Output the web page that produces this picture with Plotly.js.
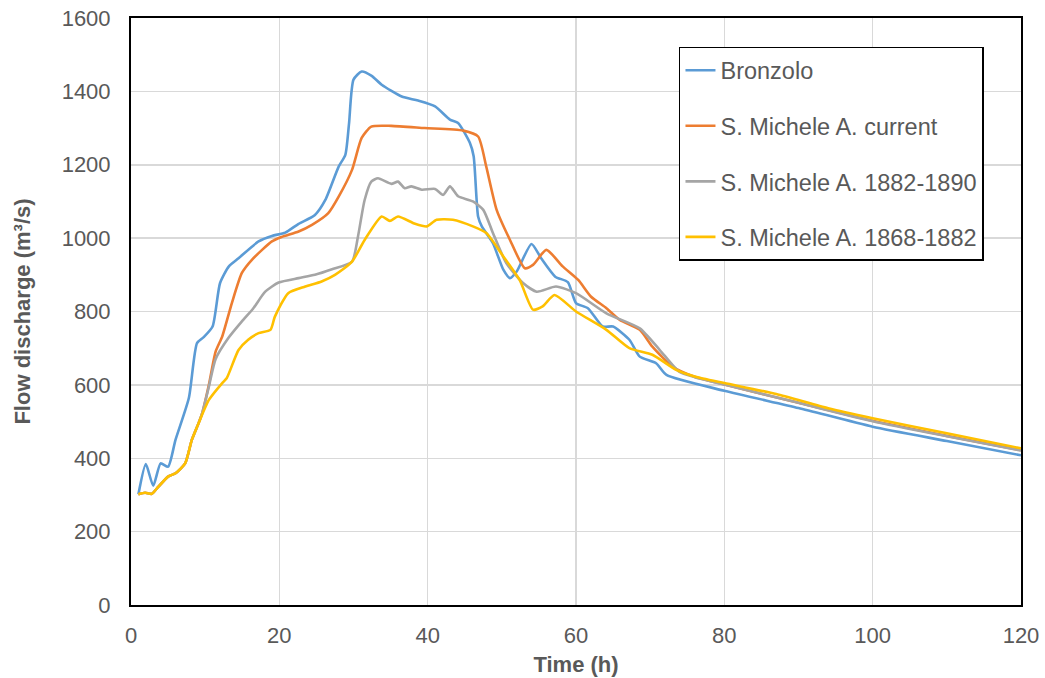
<!DOCTYPE html>
<html>
<head>
<meta charset="utf-8">
<script src="https://cdn.plot.ly/plotly-3.0.1.min.js"></script>
<style>html,body{margin:0;padding:0;background:#fff;}#chart{width:1045px;height:678px;}</style>
</head>
<body>
<div id="chart"></div>
<script>
// Time (h) and flow discharge (m3/s)
const seriesNames = ["Bronzolo", "S. Michele A. current", "S. Michele A. 1882-1890", "S. Michele A. 1868-1882"];

const bronzoloT = [1,2,3,4,5,6,7.8,8.9,9.8,11,12,13.2,14.5,17.2,19,20.8,22.6,24.8,26.2,28,28.9,29.4,30,31.1,32.4,33.8,36.5,38.7,41,43,44.1,45.7,46.2,46.8,47.3,48.8,50.2,51.1,52,54,55.3,57.2,58.9,60,61.6,63.6,65,67.2,68.6,70.8,72.2,80,90,100,110,120];
const bronzoloQ = [302,384,325,386,377,450,564,714,730,759,877,923,945,991,1006,1015,1039,1063,1104,1195,1227,1313,1432,1454,1443,1418,1386,1375,1359,1323,1314,1259,1223,1059,1032,986,914,891,909,984,945,895,880,823,809,759,759,723,677,659,627,584,537,486,447,408];

const currentT = [1,1.9,2.8,3.5,5,6,7.3,8.2,9.1,9.6,10.5,11.4,12.3,13.6,14.95,16.3,19,20.3,22.6,24.4,26.6,28,29.8,31.1,32.4,35.1,39.6,44.8,46.8,47.9,49.3,51.1,53.1,54.2,56,58.2,60.3,62,64.1,65.9,68.6,70.3,73,76,80,90,100,110,120];
const currentQ = [302,306,303,318,350,359,386,450,495,523,600,690,732,823,905,941,991,1003,1018,1036,1068,1113,1186,1273,1304,1306,1300,1293,1277,1195,1077,995,918,927,968,923,886,841,809,777,750,704,650,622,601,551,502,461,422];

const old1882T = [1,1.9,2.8,3.5,5,6,7.3,8.2,9.1,9.6,10.5,11.4,13.1,14.95,16.5,18.1,19.9,22.6,24.8,27.1,29.8,30.6,31.5,32.4,33.3,35.1,36,36.9,37.8,39.2,41,42.1,43,44.1,46.1,47.5,48.8,50.6,52.9,54.7,57.3,60,64.1,68.6,71.3,73.9,76,80,90,100,110,120];
const old1882Q = [302,306,303,318,350,359,386,450,495,523,595,670,727,773,809,854,879,891,900,915,936,1004,1104,1154,1163,1148,1154,1136,1141,1132,1134,1118,1141,1114,1100,1077,1014,932,877,854,868,850,795,754,695,636,621,601,551,501,460,421];

const old1868T = [1,1.9,2.8,3.5,5,6,7.3,8.2,9.1,10.5,12.3,12.9,14.5,15.8,17.2,18.8,19.4,21.2,23.5,25.7,27.5,29.8,31.5,33.8,34.9,36,38.3,39.9,41.2,43.4,46.1,47.9,50.2,52.4,54.2,55.5,57.1,60,64.1,67.2,70.3,73.5,76,80,87,94,100,110,120];
const old1868Q = [302,306,303,318,350,359,386,450,495,559,605,618,695,723,741,750,786,850,868,882,900,936,995,1059,1047,1059,1039,1032,1050,1050,1032,1014,950,886,805,814,845,800,750,700,682,641,623,605,575,536,509,468,427];

const colors = ["#5B9BD5", "#ED7D31", "#A5A5A5", "#FFC000"];
const xs = [bronzoloT, currentT, old1882T, old1868T];
const ys = [bronzoloQ, currentQ, old1882Q, old1868Q];

const traces = seriesNames.map((name, i) => ({
  type: "scatter",
  mode: "lines",
  name: name,
  x: xs[i],
  y: ys[i],
  legendgroup: "g" + i,
  line: {color: colors[i], width: 2.6, shape: "spline", smoothing: 0.6}
}));

const xTicks = [0, 20, 40, 60, 80, 100, 120];
const yTicks = [0, 200, 400, 600, 800, 1000, 1200, 1400, 1600];

const layout = {
  width: 1045,
  height: 678,
  margin: {l: 131, r: 24, t: 18, b: 73},
  paper_bgcolor: "#ffffff",
  plot_bgcolor: "#ffffff",
  font: {family: "Liberation Sans, Arial, sans-serif", color: "#595959", size: 22},
  showlegend: true,
  legend: {
    x: 0.6157, y: 0.9506, xanchor: "left", yanchor: "top",
    bgcolor: "#ffffff", bordercolor: "#000000", borderwidth: 1.5,
    font: {size: 23.5, color: "#595959"},
    tracegroupgap: 22,
    traceorder: "grouped",
    entrywidth: 265
  },
  xaxis: {
    range: [0, 120],
    tickvals: xTicks,
    ticktext: xTicks.map(String),
    showgrid: true, gridcolor: "#D9D9D9", gridwidth: 1.5,
    showline: true, linecolor: "#000000", linewidth: 2, mirror: true,
    zeroline: false,
    ticks: "", ticklabelstandoff: 10,
    tickfont: {size: 22, color: "#595959"},
    title: {text: "Time (h)", font: {size: 22, color: "#595959", family: "Liberation Sans, Arial, sans-serif", weight: "bold"}, standoff: 9}
  },
  yaxis: {
    range: [0, 1600],
    tickvals: yTicks,
    ticktext: yTicks.map(String),
    showgrid: true, gridcolor: "#D9D9D9", gridwidth: 1.5,
    showline: true, linecolor: "#000000", linewidth: 2, mirror: true,
    zeroline: false,
    ticks: "", ticklabelstandoff: 14,
    tickfont: {size: 22, color: "#595959"},
    title: {text: "Flow discharge (m³/s)", font: {size: 22, color: "#595959", family: "Liberation Sans, Arial, sans-serif", weight: "bold"}, standoff: 25}
  }
};

Plotly.newPlot("chart", traces, layout, {displayModeBar: false, staticPlot: true});
</script>
</body>
</html>
